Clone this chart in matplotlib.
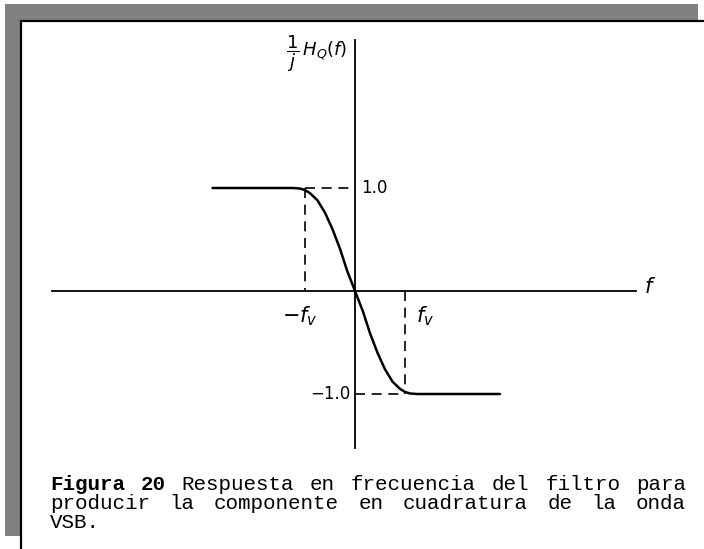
"""Frequency response of the quadrature-component filter for a VSB wave."""

import numpy as np
import matplotlib
matplotlib.use('Agg')
import matplotlib.pyplot as plt
from matplotlib.patches import Rectangle

W_PX, H_PX = 704, 549

# Normalised frequency f/fv and response (1/j) H_Q(f)
freq = [-2.85, -1.25, -1.1, -1.0, -0.9, -0.75, -0.6, -0.45, -0.3, -0.16, 0.0,
        0.16, 0.3, 0.45, 0.6, 0.75, 0.9, 1.0, 1.1, 1.25, 2.9]
resp = [1.0, 1.0, 0.995, 0.98, 0.95, 0.88, 0.76, 0.6, 0.41, 0.2, 0.0,
        -0.2, -0.41, -0.6, -0.76, -0.88, -0.95, -0.98, -0.995, -1.0, -1.0]

fv = 1.0
levels = [1.0, -1.0]
level_labels = ['1.0', '\u22121.0']

caption_bold = 'Figura 20'
caption_lines = [
    'Respuesta en frecuencia del filtro para',
    'producir la componente en cuadratura de la onda',
    'VSB.',
]


def fx(px):
    return px / W_PX


def fy(py):
    return 1 - py / H_PX


fig = plt.figure(figsize=(W_PX / 100, H_PX / 100), dpi=100)
fig.patch.set_facecolor('white')

# drop-shadow box and page frame
fig.add_artist(Rectangle((fx(5), fy(536)), fx(698) - fx(5), fy(4) - fy(536),
                         transform=fig.transFigure, facecolor='#808080',
                         edgecolor='none', zorder=0))
fig.add_artist(Rectangle((fx(21), fy(600)), fx(760) - fx(21), fy(21) - fy(600),
                         transform=fig.transFigure, facecolor='white',
                         edgecolor='black', linewidth=1.6, zorder=0.5))

ax = fig.add_axes([0, 0, 1, 1], zorder=1)
ax.patch.set_alpha(0)
ax.axis('off')
# origin at pixel (355, 291); 50 px per fv, 103 px per unit response
ax.set_xlim(-355 / 50, (W_PX - 355) / 50)
ax.set_ylim((291 - H_PX) / 103, 291 / 103)

# axes
ax.plot([-6.06, 5.62], [0, 0], color='black', lw=1.3)
ax.plot([0, 0], [-1.524, 2.437], color='black', lw=1.3)

# response curve
ax.plot(freq, resp, color='black', lw=1.8, solid_capstyle='round')

# dashed guides to +-1.0 and +-fv
dash = dict(color='black', lw=1.2, dashes=(6, 4))
ax.plot([-fv, 0], [levels[0], levels[0]], **dash)
ax.plot([-fv, -fv], [levels[0], 0], **dash)
ax.plot([0, fv], [levels[1], levels[1]], **dash)
ax.plot([fv, fv], [0, levels[1]], **dash)

ax.text(0.12, levels[0], level_labels[0], ha='left', va='center', fontsize=12)
ax.text(-0.08, levels[1], level_labels[1], ha='right', va='center', fontsize=12)
ax.text(-fv - 0.1, -0.24, r'$-f_v$', ha='center', va='center', fontsize=15)
ax.text(fv + 0.22, -0.24, r'$f_v$', ha='left', va='center', fontsize=15)
ax.text(5.78, 0.04, r'$f$', ha='left', va='center', fontsize=15)
ax.text(-0.16, 2.3, r'$\dfrac{1}{j}\,H_Q(f)$', ha='right', va='center',
        fontsize=13)

# caption, monospaced; the first two lines are justified between x0 and x1
mono = 'Liberation Mono'
fs = 15
char_px = 0.6 * fs * 100 / 72
x0, x1 = 50, 686
baselines = [490, 509, 528]


def justified(words, py, weights):
    letters = sum(len(w) for w in words)
    gap = (x1 - x0 - letters * char_px) / (len(words) - 1)
    xpos = x0
    for w, wt in zip(words, weights):
        fig.text(fx(xpos), fy(py), w, family=mono, fontsize=fs, weight=wt,
                 ha='left', va='baseline')
        xpos += len(w) * char_px + gap


first = caption_bold.split() + caption_lines[0].split()
justified(first, baselines[0], ['bold', 'bold'] + ['normal'] * (len(first) - 2))
second = caption_lines[1].split()
justified(second, baselines[1], ['normal'] * len(second))
fig.text(fx(x0), fy(baselines[2]), caption_lines[2], family=mono, fontsize=fs,
         ha='left', va='baseline')

fig.savefig('out.png', dpi=100)
